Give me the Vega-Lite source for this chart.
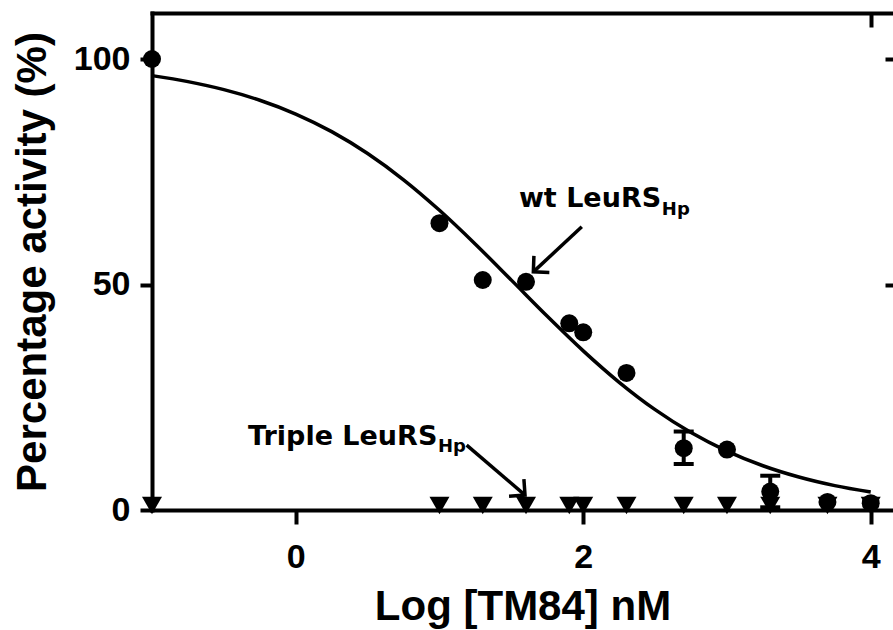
{
  "$schema": "https://vega.github.io/schema/vega-lite/v6.json",
  "width": 741,
  "height": 497,
  "autosize": {"type": "none"},
  "padding": {"left": 152, "top": 13, "right": 0, "bottom": 120},
  "background": "white",
  "config": {
    "view": {"stroke": null},
    "axis": {
      "grid": false,
      "domainColor": "black",
      "tickColor": "black",
      "labelColor": "black",
      "titleColor": "black",
      "domainWidth": 4,
      "tickWidth": 4,
      "domainCap": "square",
      "labelFont": "Liberation Sans",
      "titleFont": "Liberation Sans",
      "labelFontWeight": "bold",
      "titleFontWeight": "bold",
      "labelFontSize": 34,
      "titleFontSize": 42
    }
  },
  "resolve": {"axis": {"x": "independent", "y": "independent"}},
  "datasets": {
    "curve": [
      {"x": -1.0, "y": 96.31}, {"x": -0.75, "y": 94.98}, {"x": -0.5, "y": 93.2}, {"x": -0.25, "y": 90.85},
      {"x": 0.0, "y": 87.8}, {"x": 0.25, "y": 83.9}, {"x": 0.5, "y": 79.05}, {"x": 0.75, "y": 73.22},
      {"x": 1.0, "y": 66.45}, {"x": 1.25, "y": 58.93}, {"x": 1.5, "y": 50.97}, {"x": 1.75, "y": 42.95},
      {"x": 2.0, "y": 35.29}, {"x": 2.25, "y": 28.32}, {"x": 2.5, "y": 22.25}, {"x": 2.75, "y": 17.17},
      {"x": 3.0, "y": 13.06}, {"x": 3.25, "y": 9.81}, {"x": 3.5, "y": 7.31}, {"x": 3.75, "y": 5.4},
      {"x": 4.0, "y": 3.97}
    ],
    "wt": [
      {"x": -1, "y": 100}, {"x": 1.0, "y": 63.6}, {"x": 1.301, "y": 51.0}, {"x": 1.602, "y": 50.6},
      {"x": 1.903, "y": 41.4}, {"x": 2.0, "y": 39.4}, {"x": 2.301, "y": 30.4}, {"x": 2.699, "y": 13.7},
      {"x": 3.0, "y": 13.4}, {"x": 3.301, "y": 4.1}, {"x": 3.699, "y": 1.8}, {"x": 4.0, "y": 1.5}
    ],
    "triple": [
      {"x": -1, "y": 1}, {"x": 1.0, "y": 1}, {"x": 1.301, "y": 1}, {"x": 1.602, "y": 1},
      {"x": 1.903, "y": 1}, {"x": 2.0, "y": 1}, {"x": 2.301, "y": 1}, {"x": 2.699, "y": 1},
      {"x": 3.0, "y": 1}, {"x": 3.301, "y": 1}, {"x": 3.699, "y": 1}, {"x": 4.0, "y": 1}
    ],
    "errors": [
      {"x": 2.699, "lo": 10.2, "hi": 17.4},
      {"x": 3.301, "lo": 0.6, "hi": 7.6}
    ],
    "arrows": [
      {"name": "wt", "x": 1.99, "y": 62.8, "x2": 1.653, "y2": 52.8},
      {"name": "triple", "x": 1.189, "y": 14.4, "x2": 1.595, "y2": 3.3}
    ],
    "labels": [
      {"name": "wt", "x": 2.542, "y": 67.1, "main": "wt LeuRS", "xs": 2.547, "ys": 65.4, "sub": "Hp"},
      {"name": "triple", "x": 0.985, "y": 14.4, "main": "Triple LeuRS", "xs": 0.989, "ys": 12.9, "sub": "Hp"}
    ]
  },
  "layer": [
    {
      "data": {"name": "curve"},
      "mark": {"type": "line", "color": "black", "strokeWidth": 3.5, "interpolate": "monotone"},
      "encoding": {
        "x": {"field": "x", "type": "quantitative", "scale": {"domain": [-1, 4.155], "nice": false, "zero": false},
              "axis": {"orient": "bottom", "values": [0, 2, 4], "tickSize": 14, "labelPadding": 16, "titlePadding": 12, "title": "Log [TM84] nM"}},
        "y": {"field": "y", "type": "quantitative", "scale": {"domain": [0, 110.2], "nice": false},
              "axis": {"orient": "left", "values": [0, 50, 100], "tickSize": 12, "labelPadding": 10, "titlePadding": 19, "title": "Percentage activity (%)"}}
      }
    },
    {
      "data": {"name": "errors"},
      "mark": {"type": "rule", "color": "black", "strokeWidth": 4},
      "encoding": {
        "x": {"field": "x", "type": "quantitative", "scale": {"domain": [-1, 4.155], "nice": false, "zero": false},
              "axis": {"orient": "top", "values": [4], "tickSize": -14, "labels": false, "title": null, "domain": true}},
        "y": {"field": "lo", "type": "quantitative", "scale": {"domain": [0, 110.2], "nice": false},
              "axis": {"orient": "right", "values": [50, 100], "tickSize": -8, "labels": false, "title": null, "domain": false}},
        "y2": {"field": "hi"}
      }
    },
    {
      "data": {"name": "errors"},
      "mark": {"type": "point", "shape": "stroke", "filled": false, "color": "black", "strokeWidth": 4, "size": 400, "opacity": 1},
      "encoding": {
        "x": {"field": "x", "type": "quantitative", "scale": {"domain": [-1, 4.155], "nice": false, "zero": false}, "axis": null},
        "y": {"field": "lo", "type": "quantitative", "scale": {"domain": [0, 110.2], "nice": false}, "axis": null}
      }
    },
    {
      "data": {"name": "errors"},
      "mark": {"type": "point", "shape": "stroke", "filled": false, "color": "black", "strokeWidth": 4, "size": 400, "opacity": 1},
      "encoding": {
        "x": {"field": "x", "type": "quantitative", "scale": {"domain": [-1, 4.155], "nice": false, "zero": false}, "axis": null},
        "y": {"field": "hi", "type": "quantitative", "scale": {"domain": [0, 110.2], "nice": false}, "axis": null}
      }
    },
    {
      "data": {"name": "triple"},
      "mark": {"type": "point", "shape": "triangle-down", "filled": true, "color": "black", "size": 400, "opacity": 1},
      "encoding": {
        "x": {"field": "x", "type": "quantitative", "scale": {"domain": [-1, 4.155], "nice": false, "zero": false}, "axis": null},
        "y": {"field": "y", "type": "quantitative", "scale": {"domain": [0, 110.2], "nice": false}, "axis": null}
      }
    },
    {
      "data": {"name": "wt"},
      "mark": {"type": "point", "shape": "circle", "filled": true, "color": "black", "size": 324, "opacity": 1},
      "encoding": {
        "x": {"field": "x", "type": "quantitative", "scale": {"domain": [-1, 4.155], "nice": false, "zero": false}, "axis": null},
        "y": {"field": "y", "type": "quantitative", "scale": {"domain": [0, 110.2], "nice": false}, "axis": null}
      }
    },
    {
      "data": {"name": "arrows"},
      "mark": {"type": "rule", "color": "black", "strokeWidth": 3.5},
      "encoding": {
        "x": {"field": "x", "type": "quantitative", "scale": {"domain": [-1, 4.155], "nice": false, "zero": false}, "axis": null},
        "y": {"field": "y", "type": "quantitative", "scale": {"domain": [0, 110.2], "nice": false}, "axis": null},
        "x2": {"field": "x2"},
        "y2": {"field": "y2"}
      }
    },
    {
      "data": {"name": "arrows"},
      "transform": [{"filter": "datum.name == 'wt'"}],
      "mark": {"type": "point", "shape": "M-1,-1L0,0L1,-1", "filled": false, "color": "black", "strokeWidth": 3.5, "size": 512, "angle": 47, "opacity": 1},
      "encoding": {
        "x": {"field": "x2", "type": "quantitative", "scale": {"domain": [-1, 4.155], "nice": false, "zero": false}, "axis": null},
        "y": {"field": "y2", "type": "quantitative", "scale": {"domain": [0, 110.2], "nice": false}, "axis": null}
      }
    },
    {
      "data": {"name": "arrows"},
      "transform": [{"filter": "datum.name == 'triple'"}],
      "mark": {"type": "point", "shape": "M-1,-1L0,0L1,-1", "filled": false, "color": "black", "strokeWidth": 3.5, "size": 512, "angle": -49, "opacity": 1},
      "encoding": {
        "x": {"field": "x2", "type": "quantitative", "scale": {"domain": [-1, 4.155], "nice": false, "zero": false}, "axis": null},
        "y": {"field": "y2", "type": "quantitative", "scale": {"domain": [0, 110.2], "nice": false}, "axis": null}
      }
    },
    {
      "data": {"name": "labels"},
      "mark": {"type": "text", "font": "DejaVu Sans", "fontWeight": "bold", "fontSize": 27, "align": "right", "baseline": "alphabetic", "color": "black"},
      "encoding": {
        "x": {"field": "x", "type": "quantitative", "scale": {"domain": [-1, 4.155], "nice": false, "zero": false}, "axis": null},
        "y": {"field": "y", "type": "quantitative", "scale": {"domain": [0, 110.2], "nice": false}, "axis": null},
        "text": {"field": "main"}
      }
    },
    {
      "data": {"name": "labels"},
      "mark": {"type": "text", "font": "DejaVu Sans", "fontWeight": "bold", "fontSize": 18, "align": "left", "baseline": "alphabetic", "color": "black"},
      "encoding": {
        "x": {"field": "xs", "type": "quantitative", "scale": {"domain": [-1, 4.155], "nice": false, "zero": false}, "axis": null},
        "y": {"field": "ys", "type": "quantitative", "scale": {"domain": [0, 110.2], "nice": false}, "axis": null},
        "text": {"field": "sub"}
      }
    }
  ]
}
